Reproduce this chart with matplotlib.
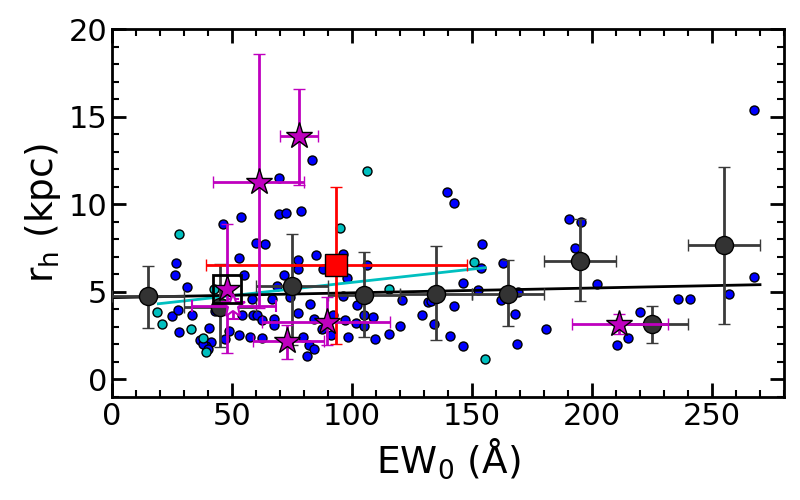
import numpy as np
import matplotlib
matplotlib.use("Agg")
import matplotlib.pyplot as plt

# individual objects (blue dots)
ew_blue = [267.6, 69.7, 83.3, 139.7, 142.6, 53.75, 46.3, 60.0, 63.7, 53.0,
           26.6, 69.5, 72.3, 78.9, 77.4, 85.1, 96.4, 106.4, 26.4, 31.3,
           24.9, 27.6, 33.4, 28.0, 40.6, 36.8, 41.2, 39.0, 42.9, 55.1,
           58.5, 47.1, 52.8, 57.3, 58.7, 60.4, 54.0, 62.4, 62.4, 48.9,
           71.7, 77.3, 88.0, 98.0, 68.9, 66.8, 74.2, 82.5, 96.2, 102.0,
           121.0, 77.4, 84.2, 92.0, 97.0, 101.5, 105.0, 108.6, 104.8, 120.0,
           115.6, 109.6, 98.5, 91.2, 87.4, 79.7, 82.2, 84.3, 81.1, 67.5,
           67.5, 190.5, 195.4, 193.0, 154.2, 153.8, 162.9, 146.3, 152.7, 202.2,
           142.6, 162.0, 169.2, 168.0, 141.0, 146.3, 168.9, 181.0, 220.0, 210.5,
           214.9, 235.8, 241.0, 257.0, 267.5, 129.3, 131.8, 134.2, 38.0, 40.0,
           44.5, 133.0]
rh_blue = [15.35, 11.5, 12.55, 10.7, 10.05, 9.3, 8.87, 7.8, 7.75, 6.96,
           6.63, 9.47, 9.5, 9.62, 6.8, 7.09, 7.14, 6.55, 5.98, 5.3,
           3.64, 3.98, 3.68, 2.71, 2.96, 2.23, 2.15, 1.92, 3.89, 5.94,
           4.62, 2.3, 2.51, 2.45, 3.66, 3.66, 3.66, 3.42, 2.34, 2.76,
           5.98, 6.28, 6.28, 5.8, 5.33, 4.6, 4.73, 4.32, 4.78, 4.27,
           4.56, 3.81, 3.47, 3.68, 3.37, 3.25, 3.68, 3.54, 3.07, 3.03,
           2.6, 2.32, 2.41, 2.54, 2.89, 2.42, 1.96, 1.75, 1.32, 3.43,
           3.09, 9.14, 8.97, 7.52, 7.75, 6.38, 6.63, 5.52, 5.09, 5.46,
           4.21, 4.55, 4.99, 3.75, 2.46, 1.89, 2.0, 2.86, 3.83, 1.94,
           2.34, 4.57, 4.57, 4.86, 5.83, 3.7, 4.42, 3.18, 2.0, 1.75,
           3.95, 4.5]

# second sample (cyan dots)
ew_cyan = [106.3, 28.0, 95.1, 18.9, 20.7, 32.8, 37.8, 39.3, 42.6, 115.4, 150.8, 155.5]
rh_cyan = [11.9, 8.28, 8.66, 3.87, 3.18, 2.86, 2.36, 1.58, 5.14, 5.14, 6.69, 1.14]

# binned medians (dark grey)
ew_bin = [15, 45, 75, 105, 135, 165, 195, 225, 255]
ew_bin_err = [15, 15, 15, 15, 15, 15, 15, 15, 15]
rh_bin = [4.74, 4.13, 5.33, 4.8, 4.9, 4.9, 6.78, 3.14, 7.66]
rh_bin_lo = [2.95, 1.85, 1.94, 2.42, 2.25, 3.03, 4.46, 2.1, 3.14]
rh_bin_hi = [6.45, 6.6, 8.32, 7.27, 7.6, 6.84, 9.18, 4.2, 12.13]

# stars (magenta): x, x low, x high, y, y low, y high
ew_star = [61.4, 78.0, 47.8, 72.8, 89.4, 211.3]
ew_star_lo = [42.2, 70.0, 47.8, 58.9, 62.4, 191.5]
ew_star_hi = [80.1, 86.0, 47.8, 88.5, 115.8, 231.5]
rh_star = [11.29, 13.89, 5.14, 2.17, 3.28, 3.18]
rh_star_lo = [4.1, 11.12, 1.5, 1.18, 1.94, 2.57]
rh_star_hi = [18.6, 16.6, 8.86, 3.09, 4.7, 3.75]

# open star
ew_open, ew_open_lo, ew_open_hi = [50.6], [33.4], [68.2]
rh_open, rh_open_lo, rh_open_hi = [4.18], [3.47], [4.6]

# red square (stack)
ew_red, ew_red_lo, ew_red_hi = [93.5], [39.2], [147.8]
rh_red, rh_red_lo, rh_red_hi = [6.52], [2.04], [10.99]

# black open square
ew_sq, rh_sq = [47.8], [5.16]

# fit lines
fit_x, fit_y = [0, 270], [4.67, 5.41]
cfit_x, cfit_y = [19.3, 155.5], [4.32, 6.38]

fig, ax = plt.subplots(figsize=(8, 5), dpi=100)
plt.subplots_adjust(left=0.14, right=0.98, top=0.942, bottom=0.206)

ax.scatter(ew_blue, rh_blue, s=42, c='b', edgecolors='k', linewidths=1, zorder=2)
ax.scatter(ew_cyan, rh_cyan, s=42, c='c', edgecolors='k', linewidths=1, zorder=2)

ax.plot(cfit_x, cfit_y, color='c', lw=2, zorder=3)

def asym(v, lo, hi):
    v = np.array(v); return [v - np.array(lo), np.array(hi) - v]

ax.errorbar(ew_bin, rh_bin, xerr=ew_bin_err, yerr=asym(rh_bin, rh_bin_lo, rh_bin_hi),
            fmt='o', color='#3a3a3a', ms=13, mfc='#333333', mec='k', mew=1,
            elinewidth=2, capsize=4, capthick=2.5, zorder=4)
ax.plot(fit_x, fit_y, color='k', lw=2, zorder=3)

ax.errorbar(ew_red, rh_red, xerr=asym(ew_red, ew_red_lo, ew_red_hi),
            yerr=asym(rh_red, rh_red_lo, rh_red_hi), fmt='s', color='r',
            ms=16, mec='k', mew=1, elinewidth=2, capsize=4, capthick=2.5, zorder=6)

ax.errorbar(ew_star, rh_star, xerr=asym(ew_star, ew_star_lo, ew_star_hi),
            yerr=asym(rh_star, rh_star_lo, rh_star_hi), fmt='*', color='m',
            ms=20, mec='k', mew=1, elinewidth=2, capsize=4, capthick=2.5, zorder=7)
ax.errorbar(ew_open, rh_open, xerr=asym(ew_open, ew_open_lo, ew_open_hi),
            yerr=asym(rh_open, rh_open_lo, rh_open_hi), fmt='*', color='m',
            ms=18, mfc='w', mec='m', mew=1.5, elinewidth=2, capsize=4, capthick=2.5, zorder=7)

ax.plot(ew_sq, rh_sq, 's', ms=20, mfc='none', mec='k', mew=2, zorder=8)

ax.set_xlim(0, 280)
ax.set_ylim(-1, 20)
ax.set_xticks([0, 50, 100, 150, 200, 250])
ax.set_yticks([0, 5, 10, 15, 20])
ax.set_xticks(np.arange(0, 281, 10), minor=True)
ax.set_yticks(np.arange(-1, 21, 1), minor=True)
ax.tick_params(which='both', direction='in', top=True, right=True, labelsize=22)
ax.tick_params(which='major', length=10, width=2)
ax.tick_params(which='minor', length=5, width=1.5)
for s in ax.spines.values():
    s.set_linewidth(2)

ax.set_xlabel(r'EW$_0$ ($\mathrm{\AA}$)', fontsize=27)
ax.set_ylabel(r'r$_\mathrm{h}$ (kpc)', fontsize=27)

plt.savefig('out.png', dpi=100)
